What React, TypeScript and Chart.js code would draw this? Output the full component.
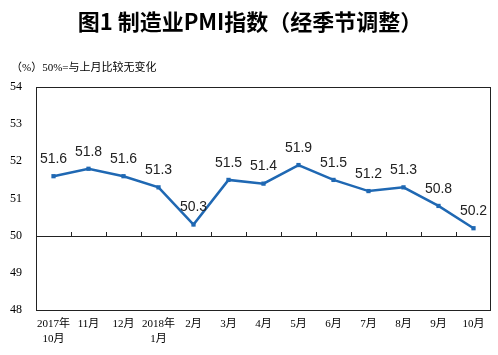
import React, { useEffect, useRef } from "react";
import { Chart, registerables } from "chart.js";

Chart.register(...registerables);

const titleText = "图1 制造业PMI指数（经季节调整）";
const subtitleText = "（%）50%=与上月比较无变化";
const categories: (string | string[])[] = [
  ["2017年", "10月"], "11月", "12月", ["2018年", "1月"], "2月", "3月", "4月",
  "5月", "6月", "7月", "8月", "9月", "10月",
];
const pmiValues = [51.6, 51.8, 51.6, 51.3, 50.3, 51.5, 51.4, 51.9, 51.5, 51.2, 51.3, 50.8, 50.2];
const yMin = 48;
const yMax = 54;
const baseline = 50;

const LINE_COLOR = "#1F68B3";

const overlayPlugin = {
  id: "overlay",
  beforeDraw(chart: any) {
    const { ctx, width, height } = chart;
    ctx.save();
    ctx.fillStyle = "#fff";
    ctx.fillRect(0, 0, width, height);
    ctx.restore();
  },
  beforeDatasetsDraw(chart: any) {
    const { ctx, chartArea, scales } = chart;
    const y50 = scales.y.getPixelForValue(baseline);
    ctx.save();
    ctx.strokeStyle = "#222";
    ctx.lineWidth = 1;
    ctx.strokeRect(Math.round(chartArea.left) + 0.5, Math.round(chartArea.top) + 0.5,
      Math.round(chartArea.right - chartArea.left) - 1, Math.round(chartArea.bottom - chartArea.top));
    ctx.beginPath();
    ctx.moveTo(chartArea.left, Math.round(y50) + 0.5);
    ctx.lineTo(chartArea.right, Math.round(y50) + 0.5);
    const n = categories.length;
    const step = (chartArea.right - chartArea.left) / n;
    for (let i = 1; i < n; i++) {
      const x = Math.round(chartArea.left + step * i) + 0.5;
      ctx.moveTo(x, Math.round(y50) + 0.5);
      ctx.lineTo(x, Math.round(y50) - 4);
    }
    ctx.stroke();
    ctx.restore();
  },
  afterDatasetsDraw(chart: any) {
    const { ctx } = chart;
    const meta = chart.getDatasetMeta(0);
    ctx.save();
    ctx.fillStyle = "#222";
    ctx.font = "14px 'Liberation Sans', Arial, sans-serif";
    ctx.textAlign = "center";
    ctx.textBaseline = "middle";
    meta.data.forEach((pt: any, i: number) => {
      ctx.fillText(pmiValues[i].toFixed(1), pt.x, pt.y - 17);
    });
    ctx.fillStyle = "#000";
    ctx.font = "bold 22px 'Noto Sans CJK SC', sans-serif";
    ctx.fillText(titleText, 250, 22);
    ctx.textAlign = "left";
    ctx.font = "11px 'Liberation Serif', 'Noto Sans CJK SC', serif";
    ctx.fillText(subtitleText, 11, 68);
    ctx.restore();
  },
};

export default function App() {
  const canvasRef = useRef<HTMLCanvasElement | null>(null);

  useEffect(() => {
    if (!canvasRef.current) return;
    const chart = new Chart(canvasRef.current, {
      type: "line",
      data: {
        labels: categories,
        datasets: [
          {
            data: pmiValues,
            borderColor: LINE_COLOR,
            backgroundColor: LINE_COLOR,
            borderWidth: 2.5,
            pointStyle: "rect",
            pointRadius: 3,
            pointBorderWidth: 0,
            tension: 0,
          },
        ],
      },
      options: {
        responsive: false,
        animation: false,
        layout: { padding: { top: 87, right: 7, bottom: 0, left: 0 } },
        plugins: {
          legend: { display: false },
          title: { display: false },
          tooltip: { enabled: false },
        },
        scales: {
          x: {
            offset: true,
            grid: { display: false },
            border: { display: false },
            ticks: {
              color: "#000",
              font: { family: "'Liberation Serif', 'Noto Sans CJK SC', serif", size: 11, lineHeight: 1.4 },
              maxRotation: 0,
              autoSkip: false,
              padding: -2,
            },
            afterFit(scale: any) {
              scale.height = 45;
            },
          },
          y: {
            min: yMin,
            max: yMax,
            grid: { display: false },
            border: { display: false },
            ticks: {
              stepSize: 1,
              color: "#000",
              font: { family: "'Liberation Serif', serif", size: 12 },
              padding: 6,
            },
            afterFit(scale: any) {
              scale.width = 36;
            },
          },
        },
      },
      plugins: [overlayPlugin],
    });
    return () => chart.destroy();
  }, []);

  return (
    <div style={{ position: "absolute", left: 0, top: 0, width: 498, height: 355, background: "#fff" }}>
      <canvas ref={canvasRef} width={498} height={355} style={{ display: "block" }} />
    </div>
  );
}
